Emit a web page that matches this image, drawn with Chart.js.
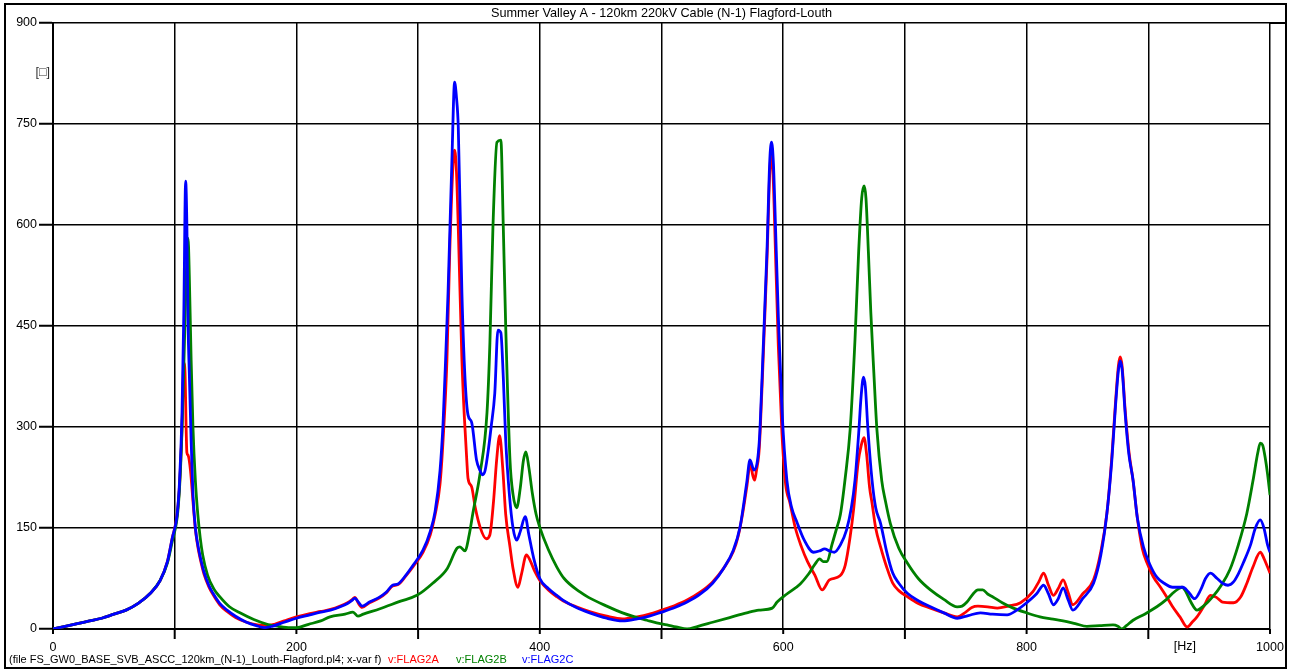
<!DOCTYPE html>
<html>
<head>
<meta charset="utf-8">
<title>Summer Valley A - 120km 220kV Cable (N-1) Flagford-Louth</title>
<script src="https://cdn.jsdelivr.net/npm/chart.js@4.4.1/dist/chart.umd.min.js"></script>
<style>
  html, body { margin: 0; padding: 0; background: #fff; }
  #wrap { width: 1290px; height: 671px; }
</style>
</head>
<body>
<div id="wrap"><canvas id="plot" width="1290" height="671"></canvas></div>
<script>
// Frequency scan: voltage magnitude at FLAG2 phases A, B, C vs frequency [Hz]
const TITLE = 'Summer Valley A - 120km 220kV Cable (N-1) Flagford-Louth';
const FILE_NOTE = '(file FS_GW0_BASE_SVB_ASCC_120km_(N-1)_Louth-Flagford.pl4; x-var f)';
const SERIES_NAMES = ['v:FLAG2A', 'v:FLAG2B', 'v:FLAG2C'];
const X_TICKS = [0, 200, 400, 600, 800, 1000];
const Y_TICKS = [0, 150, 300, 450, 600, 750, 900];
const X_UNIT = '[Hz]';
const Y_UNIT = '[\u25A1]';

// Phase A (red)
const freqA = [0,10,20,30,40,50,60,70,80,88,94,98,102,104,106,107.5,108.5,109.5,110,111,113,115,117,119,121,124,128,131.5,137,143,150,159,168,176,182,190,200,211,220,228,236,242,246,248,251,254,260,268,274,279,283.5,290,296,304,310,314,318,320.5,323.7,326,329,330,331.5,333,336,338,340,341,344,347,351,356,359,362,364.5,367,369.5,372,375.5,378,382,385,389,392,396,400,407,414,419,430,441,455,468,480,490,500,511,521,532,542,551,559,563,567,570,573,575,576.5,578,580,581,583.5,586.7,589,590.5,592,593,596,599,602,605.6,610,615,620,626,632,638,646.7,651,655,658,661.5,664,666.4,668.5,671,673,676,680,685,690,695,702,711,721,732,743,750,755,760,768,776,785,795,805,810,814,818,822,826,830,834,838,846,855,861,866,870,873,875.5,877,878.5,881,884,887.5,891,895,899,904,910,915,920,926,932,936,940,946,951,956,961,970,976,981,986,992,995,998,1000];
const ampA  = [0,4,8,12,16,22,28,38,53,72,100,135,170,215,300,395,380,290,262,258,235,190,148,122,104,82,63,51,36,26,17,10,6,5,7,12,18,23,26,29,34,39,44,47,38,32,39,46,54,64,66,79,93,114,140,170,215,280,400,560,700,711,680,597,400,315,251,224,211,180,151,134,140,190,250,287,240,170,122,90,62,82,110,102,85,72,58,48,42,33,26,19,15,18,22,28,35,43,55,70,90,115,138,175,210,245,228,221,235,260,290,400,550,680,705,660,600,420,290,215,187,150,122,100,80,58,73,79,95,137,180,246,272,284,260,210,187,150,122,92,68,57,48,38,31,24,18,25,32,34,33,31,34,39,55,70,83,65,50,60,73,55,36,52,73,115,172,255,335,392,404,390,325,265,220,165,120,98,78,62,48,33,18,3,10,18,35,50,47,40,39,48,68,92,114,105,92,83];

// Phase B (green)
const freqB = [0,10,20,30,40,50,60,70,80,88,94,98,102,104,106,108,110,111,112,113.5,115,117,119,121,123,127,132,137,145,153.6,165,176,185,195,200,210,220,227.6,240,246.5,250.6,255,268.7,285,299,312,324,332,334.4,338.5,342,345,351,356.6,359,361.5,364.8,368,370,372,375.5,378,381,384,386.5,388.6,391,394,397,400,407,414,420,433,440,455,468,478,488,496,504.5,512,521,530,542,556,570,580,591,595,603,614,621,626,630,633,636,640,644,647,651,655,659,662,664.5,666.5,668,670,672,674.5,677,681,684,688,695,702,711,721,732,743,747,751,756,760,764,768,772,780,789,800,811,820,830,840,849.6,860,871,875,878,882,887.5,897,907,915,920,925,927.7,931,935,940,946,953,960,967,974,981,986,990,992,994,996,998,1000];
const ampB  = [0,4,8,12,16,22,28,38,53,72,98,130,165,210,295,425,555,580,525,400,300,220,170,135,110,80,60,48,33,24,14,7,4,2,2,7,12,18,22,25,19,22,30,41,50,68,90,120,122,116,140,172,232,321,425,597,723,726,597,449,251,200,180,210,250,263,240,200,170,151,118,92,75,55,47,34,24,18,13,9,6,3,0,4,10,17,24,28,31,40,52,67,82,96,104,100,100,125,150,170,225,296,430,560,640,658,640,560,470,380,296,220,190,157,120,98,75,58,44,33,34,40,52,58,58,52,48,39,31,24,18,15,12,8,4,5,6,4,0,5,13,22,33,44,53,60,62,55,40,28,35,48,65,88,125,172,220,262,276,273,255,230,199];

// Phase C (blue)
const freqC = [0,10,20,30,40,50,60,70,80,88,94,98,102,104,106,107.5,109,110,111,112,113.5,115,117,119,121,124,128,131.5,137,143,150,159,167,174,180,190,200,211,220,228,236,242,246,248,251,254,260,268,274,279,283.5,290,296,304,310,314,318,320.5,323,324.6,327.8,330,331.5,333,336,338.5,341,344,348,351,353,355,358,360,363,365.6,368,370,372,375,378,381,384,388,391,395,400,407,414,419,430,441,455,468,480,490,500,511,521,532,542,551,559,564.5,570,572.7,576,578.5,580,581,583.5,586.7,589,590.5,592,593,596,599,603,607,611,617,625,630,634,638,642,647,652,656,659,662,664,666,667.5,669.5,673,676,680,685,690,695,702,711,721,732,743,752,762,772,784,792,800,808,814,818,822,826,830,834,838,846,855,861,866,870,873,875.5,877,878.5,881,884,887.5,891,896,901,907,913,920,928.5,933,938,943,947,951,956,961,965.5,970,974,978,984,988,992,995,998,1000];
const ampC  = [0,4,8,12,16,22,28,38,53,72,100,135,170,220,320,470,665,600,450,380,280,200,150,125,107,85,65,53,38,28,19,10,5,2,4,10,16,21,25,28,33,38,43,46,40,34,40,47,55,65,67,80,95,117,145,175,235,305,420,499,697,812,790,746,499,374,318,307,251,235,229,235,270,300,350,444,440,374,280,200,150,132,145,167,140,105,75,60,50,43,32,24,16,12,15,19,25,32,40,52,68,90,117,151,217,251,236,246,270,300,414,563,697,723,690,637,464,325,221,180,160,133,114,116,119,116,114,125,147,180,221,290,345,374,360,300,221,180,157,115,83,68,53,42,33,24,16,20,24,22,21,28,39,52,65,52,36,45,61,44,28,45,68,110,172,250,330,385,398,385,320,260,221,165,122,97,77,68,62,62,55,45,58,75,83,76,68,65,70,82,98,125,150,162,150,125,114];

const RED = '#ff0000', GREEN = '#008000', BLUE = '#0000ff';
const FONT = '"Liberation Sans", Arial, Helvetica, sans-serif';

function pts(xs, ys) { return xs.map((x, i) => ({ x: x, y: ys[i] })); }

// Frame, title, tick marks and footer captions
const framePlugin = {
  id: 'frame',
  afterDraw(chart) {
    const ctx = chart.ctx;
    const xs = chart.scales.x, ys = chart.scales.y;
    const a = chart.chartArea;
    ctx.save();
    ctx.strokeStyle = '#000';
    // outer frame
    ctx.lineWidth = 2;
    ctx.strokeRect(5, 4, 1281, 664);
    // title separator continues to the right frame edge
    ctx.beginPath();
    ctx.moveTo(a.right, ys.getPixelForValue(900));
    ctx.lineTo(1286, ys.getPixelForValue(900));
    ctx.stroke();
    // x tick marks: long at odd hundreds, short at labelled ones
    for (let v = 0; v <= 1000; v += 100) {
      const px = xs.getPixelForValue(v);
      const len = (v / 100) % 2 === 1 ? 10 : 5;
      ctx.beginPath();
      ctx.moveTo(px, a.bottom);
      ctx.lineTo(px, a.bottom + len);
      ctx.stroke();
    }
    // title
    ctx.fillStyle = '#000';
    ctx.font = '12.7px ' + FONT;
    ctx.textAlign = 'center';
    ctx.textBaseline = 'middle';
    ctx.fillText(TITLE, (a.left + a.right) / 2, 13);
    // units
    ctx.font = '12.5px ' + FONT;
    ctx.fillStyle = '#333';
    ctx.textAlign = 'right';
    ctx.fillText(Y_UNIT, 50, 73);
    ctx.fillStyle = '#000';
    ctx.textAlign = 'center';
    ctx.fillText(X_UNIT, xs.getPixelForValue(930), 647);
    // footer
    ctx.font = '11px ' + FONT;
    ctx.textAlign = 'left';
    ctx.fillStyle = '#000';
    ctx.fillText(FILE_NOTE, 9, 660);
    const cols = [RED, GREEN, BLUE];
    const pos = [388, 456, 522];
    SERIES_NAMES.forEach((n, i) => {
      ctx.fillStyle = cols[i];
      ctx.fillText(n, pos[i], 660);
    });
    ctx.restore();
  }
};

const common = { pointRadius: 0, borderWidth: 2.8, fill: false, tension: 0, cubicInterpolationMode: 'monotone' };

new Chart(document.getElementById('plot'), {
  type: 'line',
  data: {
    datasets: [
      Object.assign({ label: SERIES_NAMES[0], data: pts(freqA, ampA), borderColor: RED, order: 2 }, common),
      Object.assign({ label: SERIES_NAMES[1], data: pts(freqB, ampB), borderColor: GREEN, order: 1 }, common),
      Object.assign({ label: SERIES_NAMES[2], data: pts(freqC, ampC), borderColor: BLUE, order: 0 }, common)
    ]
  },
  options: {
    responsive: false,
    animation: false,
    devicePixelRatio: 1,
    layout: { padding: { top: 23, right: 20, left: 0, bottom: 0 } },
    plugins: { legend: { display: false }, tooltip: { enabled: false }, title: { display: false } },
    scales: {
      x: {
        type: 'linear', min: 0, max: 1000,
        afterFit(s) { s.height = 42; s.paddingLeft = 0; s.paddingRight = 0; },
        ticks: {
          stepSize: 100, autoSkip: false, maxRotation: 0, padding: 11,
          color: '#000', font: { family: FONT, size: 12.5 },
          callback: v => (X_TICKS.includes(v) ? String(v) : '')
        },
        grid: { color: '#000', lineWidth: 1.5, drawTicks: false },
        border: { display: true, color: '#000', width: 2 }
      },
      y: {
        min: 0, max: 900,
        afterFit(s) { s.width = 53; s.paddingTop = 0; s.paddingBottom = 0; },
        ticks: {
          stepSize: 150, padding: 2, color: '#000', font: { family: FONT, size: 12.5 },
          callback: v => (Y_TICKS.includes(v) ? String(v) : '')
        },
        grid: { color: '#000', lineWidth: 1.5, drawTicks: true, tickLength: 14, tickColor: '#000', tickWidth: 2 },
        border: { display: true, color: '#000', width: 2 }
      }
    }
  },
  plugins: [framePlugin]
});
</script>
</body>
</html>
